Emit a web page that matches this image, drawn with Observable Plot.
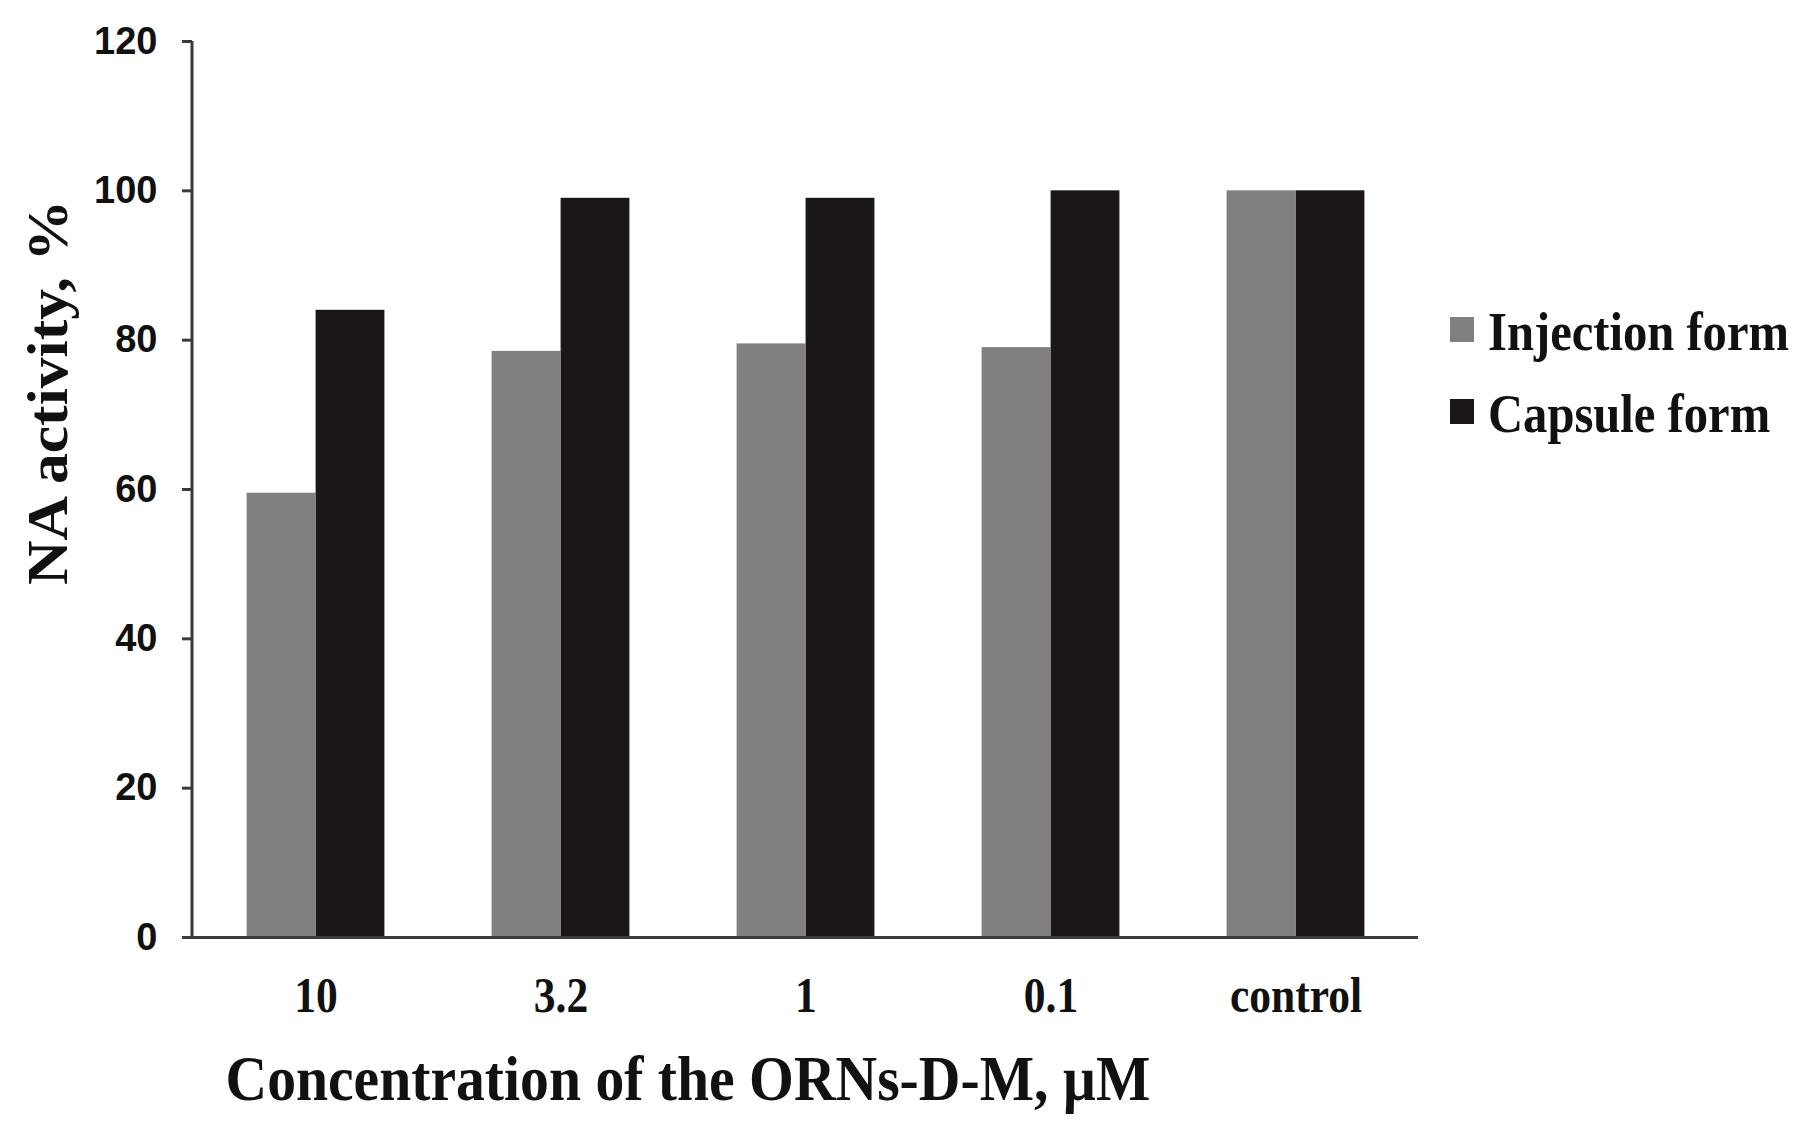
<!DOCTYPE html>
<html>
<head>
<meta charset="utf-8">
<script src="https://cdn.jsdelivr.net/npm/d3@7"></script>
<script src="https://cdn.jsdelivr.net/npm/@observablehq/plot@0.6"></script>
<style>
  html, body { margin: 0; padding: 0; background: #fff; }
  #wrap { position: relative; width: 1812px; height: 1136px; overflow: hidden; }
  #legend { position: absolute; left: 1450px; top: 305px; font-family: "Liberation Serif", "Times New Roman", serif; font-weight: bold; font-size: 54px; color: #111; }
  #legend .row { position: relative; height: 82px; }
  #legend .sw { position: absolute; left: 0; top: 12px; width: 24px; height: 25px; }
  #legend .lab { position: absolute; left: 38px; top: 0; line-height: 54px; white-space: nowrap; transform: scaleX(0.9); transform-origin: 0 0; }
</style>
</head>
<body>
<div id="wrap"></div>
<script>
// ---- data ----
const categories = ["10", "3.2", "1", "0.1", "control"];
const injection = [59.5, 78.5, 79.5, 79, 100];
const capsule = [84, 99, 99, 100, 100];
const seriesNames = ["Injection form", "Capsule form"];
const seriesColors = ["#808080", "#1b1718"];
const yTicks = [0, 20, 40, 60, 80, 100, 120];
const xTitle = "Concentration of the ORNs-D-M, µM";
const yTitle = "NA activity, %";

// ---- layout ----
const W = 1812, H = 1136, ML = 192, MR = 394, MT = 41, MB = 199;
const step = (W - ML - MR) / categories.length;
const barW = 69;
const outer = step / 2 - barW;
const axisColor = "#3a3a3a";
const serif = "Liberation Serif, Times New Roman, serif";
const sans = "Liberation Sans, Arial, sans-serif";

const rows = categories.map((c, i) => ({category: c, inj: injection[i], cap: capsule[i]}));

const plot = Plot.plot({
  width: W, height: H,
  marginLeft: ML, marginRight: MR, marginTop: MT, marginBottom: MB,
  style: {background: "white", color: "#111"},
  x: {domain: categories, padding: 0},
  y: {domain: [0, 120]},
  marks: [
    Plot.barY(rows, {x: "category", y: "inj", fill: seriesColors[0], insetLeft: outer, insetRight: step / 2}),
    Plot.barY(rows, {x: "category", y: "cap", fill: seriesColors[1], insetLeft: step / 2, insetRight: outer}),
    Plot.ruleY([0], {stroke: axisColor, strokeWidth: 3}),
    Plot.axisY({ticks: yTicks, tickSize: 10, tickPadding: 25, stroke: axisColor, strokeWidth: 3,
      fontSize: 38, fontFamily: sans, fontWeight: "bold", label: null}),
    Plot.axisX({tickSize: 0, tickPadding: 39, fontSize: 50,
      fontFamily: serif, fontWeight: "bold", label: null}),
    Plot.text([yTitle], {text: d => d, frameAnchor: "left", textAnchor: "middle", rotate: -90, dx: -144, dy: -97,
      fontSize: 58, fontFamily: serif, fontWeight: "bold", fill: "#111"}),
    Plot.text([xTitle], {text: d => d, frameAnchor: "bottom-left", textAnchor: "start", dx: 33, dy: 162,
      fontSize: 64, fontFamily: serif, fontWeight: "bold", fill: "#111"})
  ]
});

const svg = d3.select(plot);
// condensed serif look of the original
svg.selectAll('g[aria-label="x-axis tick label"] text')
  .attr("transform", function() { return (this.getAttribute("transform") || "") + " scale(0.87,1)"; });
svg.selectAll("text").filter(function() { return this.textContent === xTitle; })
  .attr("textLength", 925).attr("lengthAdjust", "spacingAndGlyphs");
svg.selectAll("text").filter(function() { return this.textContent === yTitle; })
  .attr("textLength", 385).attr("lengthAdjust", "spacingAndGlyphs");

// y-axis domain line from the library's scales
const xs = plot.scale("x"), ys = plot.scale("y");
svg.append("line")
  .attr("x1", xs.range[0]).attr("x2", xs.range[0])
  .attr("y1", ys.range[0]).attr("y2", ys.range[1])
  .attr("stroke", axisColor).attr("stroke-width", 3);

const wrap = document.getElementById("wrap");
wrap.appendChild(plot);

// legend
const legend = document.createElement("div");
legend.id = "legend";
seriesNames.forEach((name, i) => {
  const row = document.createElement("div");
  row.className = "row";
  const sw = document.createElement("span");
  sw.className = "sw";
  sw.style.background = seriesColors[i];
  const lab = document.createElement("span");
  lab.className = "lab";
  lab.textContent = name;
  row.appendChild(sw);
  row.appendChild(lab);
  legend.appendChild(row);
});
wrap.appendChild(legend);
</script>
</body>
</html>
